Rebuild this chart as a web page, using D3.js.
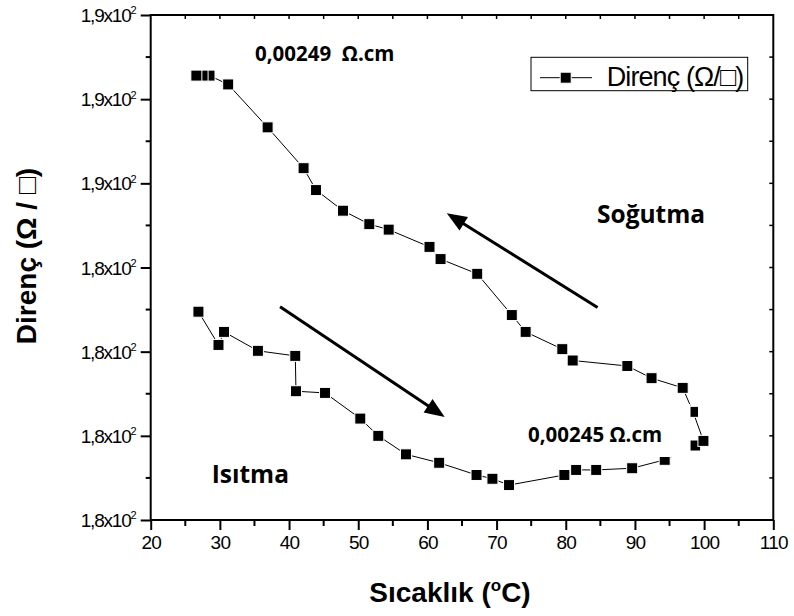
<!DOCTYPE html>
<html>
<head>
<meta charset="utf-8">
<script src="https://cdn.jsdelivr.net/npm/d3@7"></script>
<style>
  html, body { margin: 0; padding: 0; background: #fff; }
  svg { display: block; }
</style>
</head>
<body>
<svg id="chart" width="794" height="616"></svg>
<script>
// Sheet resistance measured while heating, then while cooling (°C, Ω/□)
const heatingTemp = [26.9, 29.8, 30.6, 35.5, 40.9, 41.0, 45.2, 50.3, 52.9, 56.9, 61.7, 67.1, 69.4, 71.8, 79.8, 81.5, 84.4, 89.6, 94.3];
const heatingRes  = [182.95, 182.16, 182.47, 182.02, 181.90, 181.06, 181.02, 180.41, 180.00, 179.56, 179.36, 179.07, 178.98, 178.83, 179.07, 179.19, 179.19, 179.23, 179.43];
const coolingTemp = [98.7, 99.9, 98.4, 96.9, 92.4, 88.9, 81.0, 79.5, 74.2, 72.2, 67.2, 61.9, 60.3, 54.4, 51.6, 47.8, 43.9, 42.1, 36.9, 31.2, 28.5, 27.5, 26.6];
const coolingRes  = [179.77, 179.88, 180.57, 181.14, 181.37, 181.66, 181.79, 182.06, 182.47, 182.87, 183.85, 184.20, 184.49, 184.90, 185.03, 185.35, 185.84, 186.36, 187.33, 188.35, 188.56, 188.56, 188.56];

const xTicks = [20, 30, 40, 50, 60, 70, 80, 90, 100, 110];
const yTicks = [178, 180, 182, 184, 186, 188, 190];
const seriesName = "Direnç (Ω/□)";
const xTitle = "Sıcaklık (";
const yTitle = "Direnç (Ω / □)";

const svg = d3.select("#chart");
const padL = 150.7, padR = 773.3, padT = 15, padB = 520;

const x = d3.scaleLinear().domain([20, 110]).range([padL, padR]);
const y = d3.scaleLinear().domain([178, 190]).range([padB, padT]);

const points = heatingTemp.map((t, i) => ({ t, r: heatingRes[i] }))
  .concat(coolingTemp.map((t, i) => ({ t, r: coolingRes[i] })));

const AXIS_FONT = "'Liberation Sans', Arial, sans-serif";
const NOTE_FONT = "'Open Sans', 'Noto Sans', sans-serif";

// ---- frame and ticks ----
svg.append("rect").attr("x", padL).attr("y", padT).attr("width", padR - padL).attr("height", padB - padT)
  .attr("fill", "none").attr("stroke", "#000").attr("stroke-width", 2);

const xMinor = d3.range(25, 110, 10);
const yMinor = d3.range(179, 190, 2);

// bottom axis
const bottomAxis = svg.append("g").attr("transform", `translate(0,${padB})`)
  .call(d3.axisBottom(x).tickValues(xTicks).tickSize(10).tickPadding(6).tickFormat(d3.format("d")));
bottomAxis.select(".domain").remove();
bottomAxis.selectAll(".tick line").attr("stroke-width", 2);
bottomAxis.selectAll("text").attr("font-family", AXIS_FONT).attr("font-size", 19).attr("fill", "#000").attr("letter-spacing", -0.8);
svg.append("g").selectAll("line").data(xMinor).join("line")
  .attr("x1", d => x(d)).attr("x2", d => x(d)).attr("y1", padB).attr("y2", padB + 6)
  .attr("stroke", "#000").attr("stroke-width", 2);

// top axis (inward ticks)
svg.append("g").selectAll("line").data(d3.range(25, 110, 5)).join("line")
  .attr("x1", d => x(d)).attr("x2", d => x(d)).attr("y1", padT).attr("y2", padT + 4)
  .attr("stroke", "#000").attr("stroke-width", 1.5);

// left axis
const leftAxis = svg.append("g").attr("transform", `translate(${padL},0)`)
  .call(d3.axisLeft(y).tickValues(yTicks).tickSize(10).tickPadding(4).tickFormat(() => ""));
leftAxis.select(".domain").remove();
leftAxis.selectAll(".tick line").attr("stroke-width", 2);
leftAxis.selectAll(".tick text").each(function (d) {
  const t = d3.select(this)
    .attr("font-family", AXIS_FONT).attr("font-size", 19).attr("fill", "#000")
    .attr("letter-spacing", -1.2).attr("dy", "0.35em");
  t.append("tspan").text((d / 100).toFixed(1).replace(".", ",") + "x10");
  t.append("tspan").attr("font-size", 11).attr("dy", "-0.7em").attr("letter-spacing", 0).text("2");
});
svg.append("g").selectAll("line").data(yMinor).join("line")
  .attr("x1", padL - 5).attr("x2", padL).attr("y1", d => y(d)).attr("y2", d => y(d))
  .attr("stroke", "#000").attr("stroke-width", 2);

// right axis (inward ticks)
svg.append("g").selectAll("line").data(d3.range(179, 190, 1)).join("line")
  .attr("x1", padR - 4).attr("x2", padR).attr("y1", d => y(d)).attr("y2", d => y(d))
  .attr("stroke", "#000").attr("stroke-width", 1.5);

// ---- axis titles ----
const xt = svg.append("text").attr("x", 450).attr("y", 601.5).attr("text-anchor", "middle")
  .attr("font-family", AXIS_FONT).attr("font-weight", "bold").attr("font-size", 28).attr("fill", "#000");
xt.append("tspan").text(xTitle);
xt.append("tspan").attr("font-size", 17).attr("dy", -11).text("o");
xt.append("tspan").attr("dy", 11).text("C)");

svg.append("text").attr("transform", "translate(36,256) rotate(-90)").attr("text-anchor", "middle")
  .attr("font-family", AXIS_FONT).attr("font-weight", "bold").attr("font-size", 28).attr("fill", "#000")
  .text(yTitle);

// ---- data series ----
const plot = svg.append("g");
plot.append("path").datum(points)
  .attr("d", d3.line().x(d => x(d.t)).y(d => y(d.r)))
  .attr("fill", "none").attr("stroke", "#000").attr("stroke-width", 1);
const M = 11;
plot.selectAll("rect.pt").data(points).join("rect").attr("class", "pt")
  .attr("x", d => x(d.t) - M / 2).attr("y", d => y(d.r) - M / 2)
  .attr("width", M).attr("height", M)
  .attr("fill", "#000").attr("stroke", "#fff").attr("stroke-width", 1);

// ---- arrows showing sweep direction ----
function arrow(t0, r0, t1, r1) {
  const x0 = x(t0), y0 = y(r0), x1 = x(t1), y1 = y(r1);
  const ang = Math.atan2(y1 - y0, x1 - x0);
  const len = 20, half = 8;
  const bx = x1 - len * Math.cos(ang), by = y1 - len * Math.sin(ang);
  svg.append("line").attr("x1", x0).attr("y1", y0).attr("x2", bx + 4 * Math.cos(ang)).attr("y2", by + 4 * Math.sin(ang))
    .attr("stroke", "#000").attr("stroke-width", 3);
  const p = [
    [x1, y1],
    [bx + half * Math.sin(ang), by - half * Math.cos(ang)],
    [bx - half * Math.sin(ang), by + half * Math.cos(ang)]
  ];
  svg.append("path").attr("d", "M" + p.map(q => q.join(",")).join("L") + "Z").attr("fill", "#000");
}
arrow(84.6, 183.05, 62.8, 185.29);
arrow(38.7, 183.07, 62.5, 180.45);

// ---- annotations ----
svg.append("rect").attr("x", 515).attr("y", 404).attr("width", 175.5).attr("height", 53).attr("fill", "#fff");
function note(tx, ty, str, size) {
  svg.append("text").attr("x", tx).attr("y", ty).attr("xml:space", "preserve")
    .attr("font-family", NOTE_FONT).attr("font-weight", "bold").attr("font-size", size).attr("fill", "#000")
    .text(str);
}
note(255, 61, "0,00249  Ω.cm", 20.5);
note(528, 441.7, "0,00245 Ω.cm", 20.5);
note(597, 223.3, "Soğutma", 24.5);
note(211.7, 483.3, "Isıtma", 24.5);

// ---- legend ----
const lg = svg.append("g");
lg.append("rect").attr("x", 531).attr("y", 57.3).attr("width", 216.7).attr("height", 33.4)
  .attr("fill", "#fff").attr("stroke", "#000").attr("stroke-width", 1);
lg.append("line").attr("x1", 540).attr("x2", 592).attr("y1", 77.7).attr("y2", 77.7).attr("stroke", "#000").attr("stroke-width", 1);
lg.append("rect").attr("x", 565.7 - M / 2).attr("y", 77.7 - M / 2).attr("width", M).attr("height", M)
  .attr("fill", "#000").attr("stroke", "#fff").attr("stroke-width", 1);
lg.append("text").attr("x", 606.7).attr("y", 86)
  .attr("font-family", AXIS_FONT).attr("font-size", 27).attr("letter-spacing", -0.9).attr("fill", "#000")
  .text(seriesName);
</script>
</body>
</html>
